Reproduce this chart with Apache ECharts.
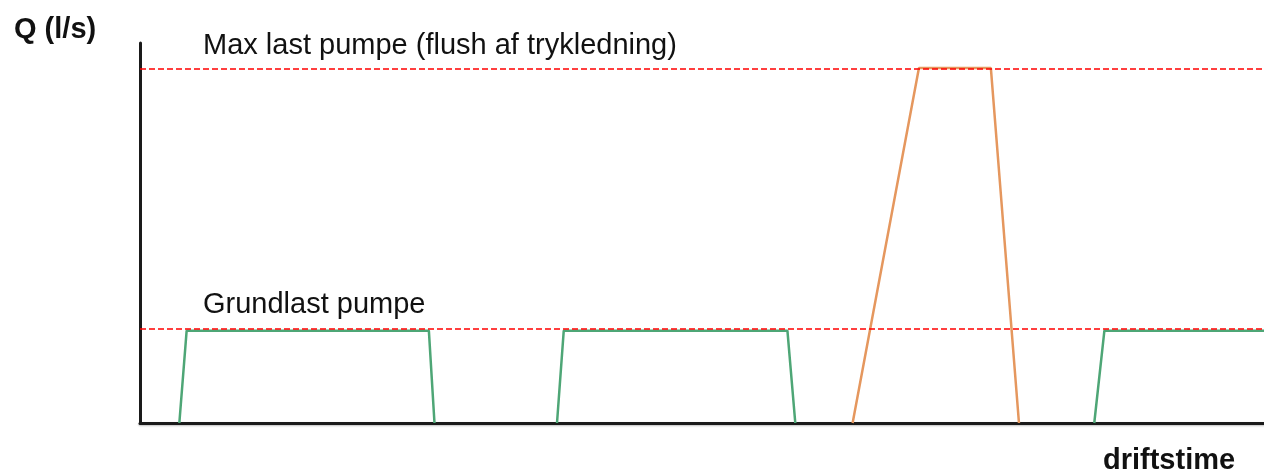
<!DOCTYPE html>
<html>
<head>
<meta charset="utf-8">
<script src="https://cdn.jsdelivr.net/npm/echarts@6/dist/echarts.min.js"></script>
<style>
html, body { margin: 0; padding: 0; background: #fff; }
#chart { width: 1264px; height: 473px; }
</style>
</head>
<body>
<div id="chart"></div>
<script>
// levels (l/s, relative scale 0-100)
var grundlast = 24.7;
var maxLast = 93.2;

// driftstime 0-100, pump on/off ramps
var greenRuns = [
	[[3.5, 0], [4.15, 24.3], [25.7, 24.3], [26.2, 0]],
	[[37.1, 0], [37.7, 24.3], [57.6, 24.3], [58.3, 0]],
	[[84.9, 0], [85.8, 24.3], [100, 24.3]]
];
var flushRun = [[63.4, 0], [69.3, 93.4], [75.7, 93.4], [78.2, 0]];

var labelFont = '"Liberation Sans", Arial, sans-serif';

var series = greenRuns.map(function(run) {
	return {
		type: 'line',
		data: run,
		symbol: 'none',
		lineStyle: { color: '#4ea676', width: 2.5 },
		z: 3
	};
});
series.push({
	type: 'line',
	data: flushRun,
	symbol: 'none',
	lineStyle: { color: '#e5975e', width: 2.5 },
	z: 3,
	markLine: {
		silent: true,
		symbol: 'none',
		label: { show: false },
		lineStyle: { color: '#ff0000', width: 1.5, type: [6, 3] },
		data: [{ yAxis: grundlast }, { yAxis: maxLast }],
		z: 4
	}
});

var option = {
	animation: false,
	backgroundColor: '#fff',
	grid: { left: 140, right: 0, top: 43, bottom: 50 },
	xAxis: {
		type: 'value',
		min: 0,
		max: 100,
		axisLine: {
			show: true,
			onZero: false,
			lineStyle: { color: '#1a1a1a', width: 3, shadowColor: 'rgba(0,0,0,0.25)', shadowBlur: 2, shadowOffsetY: 1 }
		},
		axisTick: { show: false },
		axisLabel: { show: false },
		splitLine: { show: false }
	},
	yAxis: {
		type: 'value',
		min: 0,
		max: 100,
		axisLine: {
			show: true,
			lineStyle: { color: '#1a1a1a', width: 3 }
		},
		axisTick: { show: false },
		axisLabel: { show: false },
		splitLine: { show: false }
	},
	graphic: [{
		type: 'text',
		x: 14, y: 30,
		style: { text: 'Q (l/s)', fontSize: 29, fontWeight: 'bold', fontFamily: labelFont, fill: '#111', verticalAlign: 'middle' }
	}, {
		type: 'text',
		x: 203, y: 46,
		style: { text: 'Max last pumpe (flush af trykledning)', fontSize: 29, fontFamily: labelFont, fill: '#111', verticalAlign: 'middle' }
	}, {
		type: 'text',
		x: 203, y: 305,
		style: { text: 'Grundlast pumpe', fontSize: 29, fontFamily: labelFont, fill: '#111', verticalAlign: 'middle' }
	}, {
		type: 'text',
		x: 1103, y: 461,
		style: { text: 'driftstime', fontSize: 29, fontWeight: 'bold', fontFamily: labelFont, fill: '#111', verticalAlign: 'middle' }
	}],
	series: series
};

var my = echarts.init(document.getElementById('chart'));
my.setOption(option);
</script>
</body>
</html>
